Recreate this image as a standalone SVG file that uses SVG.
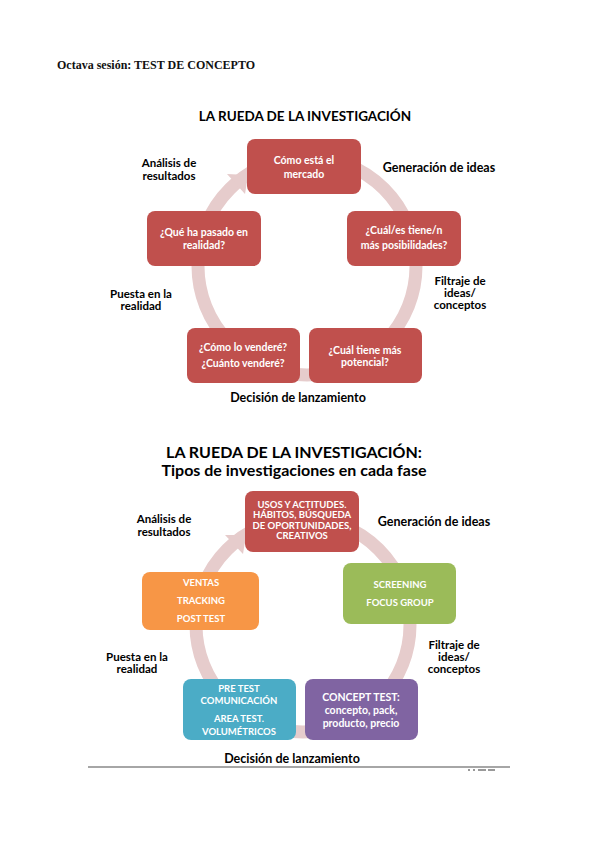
<svg xmlns="http://www.w3.org/2000/svg" width="600" height="848" viewBox="0 0 600 848">
<style>
.hdr{font-family:"Liberation Serif",serif;font-weight:bold;font-size:12px;fill:#111}
.title{font-family:Lato,"Liberation Sans",sans-serif;font-weight:bold;fill:#000;text-anchor:middle}
.lbl{font-family:Lato,"Liberation Sans",sans-serif;font-weight:bold;font-size:11.5px;fill:#000;text-anchor:middle}
.lbw{font-family:Lato,"Liberation Sans",sans-serif;font-weight:bold;font-size:12.5px;fill:#000;text-anchor:middle}
.bt{font-family:Lato,"Liberation Sans",sans-serif;font-weight:bold;font-size:10.5px;fill:#fff;text-anchor:middle}
.bu{font-family:Lato,"Liberation Sans",sans-serif;font-weight:bold;font-size:9.5px;fill:#fff;text-anchor:middle}
.ring{fill:none;stroke:#e6cccc;stroke-width:13}
.arrowhead{fill:#e6cccc}
.red{fill:#c0504d}
.green{fill:#9bbb59}
.orange{fill:#f79646}
.teal{fill:#4bacc6}
.purple{fill:#8064a2}
</style>
<rect width="600" height="848" fill="#fff"/>
<text class="hdr" x="57" y="69">Octava sesión: TEST DE CONCEPTO</text>

<!-- Diagram 1 -->
<text class="title" x="305" y="121" font-size="13.5">LA RUEDA DE LA INVESTIGACIÓN</text>
<g id="connectors1">
<circle class="ring" cx="307" cy="266" r="109"/>
<polygon class="arrowhead" points="227,174 248,175 245,194"/>
</g>
<g id="n1-top"><rect class="red" x="247" y="139" width="114" height="55" rx="8"/>
<text class="bt" x="304" y="164">Cómo está el</text><text class="bt" x="304" y="178">mercado</text></g>
<g id="n1-right"><rect class="red" x="347" y="211" width="114" height="55" rx="8"/>
<text class="bt" x="404" y="234">¿Cuál/es tiene/n</text><text class="bt" x="404" y="249">más posibilidades?</text></g>
<g id="n1-bright"><rect class="red" x="309" y="328" width="113" height="55" rx="8"/>
<text class="bt" x="365" y="354">¿Cuál tiene más</text><text class="bt" x="365" y="366">potencial?</text></g>
<g id="n1-bleft"><rect class="red" x="187" y="328" width="113" height="55" rx="8"/>
<text class="bt" x="243" y="351">¿Cómo lo venderé?</text><text class="bt" x="243" y="367">¿Cuánto venderé?</text></g>
<g id="n1-left"><rect class="red" x="147" y="211" width="114" height="55" rx="8"/>
<text class="bt" x="204" y="236">¿Qué ha pasado en</text><text class="bt" x="204" y="249">realidad?</text></g>
<g id="l1">
<text class="lbl" x="169" y="167">Análisis de</text><text class="lbl" x="169" y="180">resultados</text>
<text class="lbw" x="439" y="172">Generación de ideas</text>
<text class="lbl" x="460" y="285">Filtraje de</text><text class="lbl" x="460" y="297">ideas/</text><text class="lbl" x="460" y="309">conceptos</text>
<text class="lbl" x="141" y="298">Puesta en la</text><text class="lbl" x="141" y="310">realidad</text>
<text class="lbw" x="298" y="402">Decisión de lanzamiento</text>
</g>

<!-- Diagram 2 -->
<text class="title" x="294" y="458" font-size="16">LA RUEDA DE LA INVESTIGACIÓN:</text>
<text class="title" x="294" y="476" font-size="16">Tipos de investigaciones en cada fase</text>
<g id="connectors2">
<circle class="ring" cx="303" cy="625" r="107"/>
<polygon class="arrowhead" points="225,535 246,535 243,554"/>
</g>
<g id="n2-top"><rect class="red" x="245" y="491" width="114" height="61" rx="8"/>
<text class="bu" x="302" y="508">USOS Y ACTITUDES.</text><text class="bu" x="302" y="518">HÁBITOS, BÚSQUEDA</text>
<text class="bu" x="302" y="529">DE OPORTUNIDADES,</text><text class="bu" x="302" y="539">CREATIVOS</text></g>
<g id="n2-right"><rect class="green" x="343" y="563" width="113" height="61" rx="8"/>
<text class="bu" x="400" y="588">SCREENING</text><text class="bu" x="400" y="606">FOCUS GROUP</text></g>
<g id="n2-bright"><rect class="purple" x="305" y="679" width="113" height="61" rx="8"/>
<text class="bt" x="361" y="701">CONCEPT TEST:</text><text class="bt" x="361" y="714">concepto, pack,</text><text class="bt" x="361" y="727">producto, precio</text></g>
<g id="n2-bleft"><rect class="teal" x="183" y="679" width="113" height="61" rx="8"/>
<text class="bu" x="239" y="692">PRE TEST</text><text class="bu" x="239" y="704">COMUNICACIÓN</text>
<text class="bu" x="239" y="722">AREA TEST.</text><text class="bu" x="239" y="735">VOLUMÉTRICOS</text></g>
<g id="n2-left"><rect class="orange" x="142" y="572" width="117" height="58" rx="8"/>
<text class="bu" x="201" y="586">VENTAS</text><text class="bu" x="201" y="604">TRACKING</text><text class="bu" x="201" y="622">POST TEST</text></g>
<g id="l2">
<text class="lbl" x="164" y="523">Análisis de</text><text class="lbl" x="164" y="536">resultados</text>
<text class="lbw" x="434" y="526">Generación de ideas</text>
<text class="lbl" x="454" y="649">Filtraje de</text><text class="lbl" x="454" y="661">ideas/</text><text class="lbl" x="454" y="673">conceptos</text>
<text class="lbl" x="137" y="661">Puesta en la</text><text class="lbl" x="137" y="673">realidad</text>
<text class="lbw" x="292" y="763">Decisión de lanzamiento</text>
</g>
<line x1="88" y1="767" x2="510" y2="767" stroke="#888" stroke-width="1.5"/>
<g fill="#999"><rect x="468" y="769" width="2" height="2"/><rect x="473" y="769" width="2" height="2"/><rect x="478" y="769" width="8" height="2"/><rect x="488" y="769" width="7" height="2"/></g>
</svg>
